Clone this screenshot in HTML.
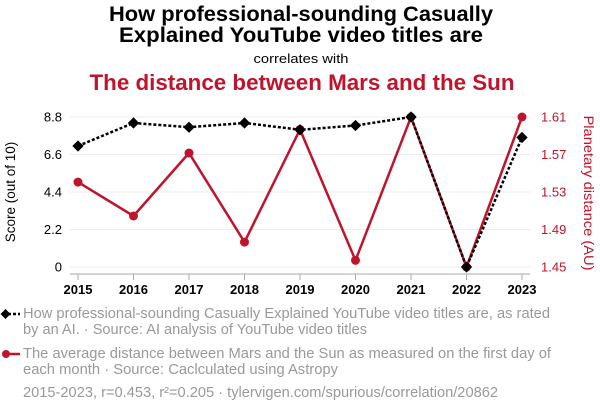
<!DOCTYPE html>
<html><head><meta charset="utf-8"><style>
body{margin:0;background:#fff;width:600px;height:414px;overflow:hidden;font-family:"Liberation Sans",sans-serif;}
</style></head><body>
<svg width="600" height="414" xmlns="http://www.w3.org/2000/svg" font-family="Liberation Sans, sans-serif">
<text x="301" y="21" text-anchor="middle" font-size="21" font-weight="bold" fill="#000" textLength="384" lengthAdjust="spacingAndGlyphs">How professional-sounding Casually</text>
<text x="301" y="42" text-anchor="middle" font-size="21" font-weight="bold" fill="#000" textLength="364" lengthAdjust="spacingAndGlyphs">Explained YouTube video titles are</text>
<text x="301" y="63" text-anchor="middle" font-size="13" fill="#000" textLength="95" lengthAdjust="spacingAndGlyphs">correlates with</text>
<text x="302" y="90" text-anchor="middle" font-size="22" font-weight="bold" fill="#c0142c" textLength="425" lengthAdjust="spacingAndGlyphs">The distance between Mars and the Sun</text>
<g id="grid"></g>
<line x1="70" y1="274" x2="530" y2="274" stroke="#aaa" stroke-width="1"/>
<g id="axes"></g>
<text transform="translate(15,192) rotate(-90)" text-anchor="middle" font-size="13.5" fill="#000">Score (out of 10)</text>
<text transform="translate(584,193) rotate(90)" text-anchor="middle" font-size="14" fill="#c0142c" textLength="155" lengthAdjust="spacingAndGlyphs">Planetary distance (AU)</text>
<g id="series"></g>
<g>
<line x1="3" y1="314" x2="20" y2="314" stroke="#000" stroke-width="2.5" stroke-dasharray="3,2"/>
<rect x="2" y="310.5" width="7" height="7" transform="rotate(45 5.5 314)" fill="#000"/>
<text x="23" y="318" font-size="14.5" fill="#999" textLength="527" lengthAdjust="spacingAndGlyphs">How professional-sounding Casually Explained YouTube video titles are, as rated</text>
<text x="23" y="334" font-size="14.5" fill="#999" textLength="344" lengthAdjust="spacingAndGlyphs">by an AI. · Source: AI analysis of YouTube video titles</text>
</g>
<g>
<line x1="3" y1="354" x2="20" y2="354" stroke="#c0142c" stroke-width="2.5"/>
<circle cx="6" cy="354" r="4" fill="#c0142c"/>
<text x="23" y="358" font-size="14.5" fill="#999" textLength="528" lengthAdjust="spacingAndGlyphs">The average distance between Mars and the Sun as measured on the first day of</text>
<text x="23" y="374" font-size="14.5" fill="#999" textLength="315" lengthAdjust="spacingAndGlyphs">each month · Source: Caclculated using Astropy</text>
</g>
<text x="23" y="397" font-size="14.5" fill="#999" textLength="475" lengthAdjust="spacingAndGlyphs">2015-2023, r=0.453, r²=0.205 · tylervigen.com/spurious/correlation/20862</text>
</svg>
<script>
const years=[2015,2016,2017,2018,2019,2020,2021,2022,2023];
const scores=[7.1,8.45,8.2,8.45,8.05,8.3,8.8,0,7.6];
const distances=[1.5406,1.5044,1.5716,1.4766,1.5967,1.4571,1.61,1.45,1.61];
const leftTicks=[0,2.2,4.4,6.6,8.8];
const rightTicks=[1.45,1.49,1.53,1.57,1.61];
const NS="http://www.w3.org/2000/svg";
const X0=78,X1=522,YT=117,YB=267;
const xs=i=>X0+(X1-X0)*i/(years.length-1);
const yL=v=>YB-(v-0)/(8.8-0)*(YB-YT);
const yR=v=>YB-(v-1.45)/(1.61-1.45)*(YB-YT);
function mk(tag,attrs,parent){const e=document.createElementNS(NS,tag);for(const k in attrs)e.setAttribute(k,attrs[k]);parent.appendChild(e);return e;}
const grid=document.getElementById('grid'),axes=document.getElementById('axes'),ser=document.getElementById('series');
leftTicks.forEach((t,i)=>{
 const g=mk('line',{x1:70,x2:530,y1:yL(t),y2:yL(t),stroke:'#eee','stroke-width':1},grid);
 
 
 const tx=mk('text',{x:62,y:yL(t)+4.5,'text-anchor':'end','font-size':13,fill:'#000'},axes);tx.textContent=t;
 
 
});
rightTicks.forEach(t=>{
 const tx=mk('text',{x:541,y:yR(t)+4.5,'font-size':13,fill:'#c0142c'},axes);tx.textContent=t.toFixed(2);
 
 
});
years.forEach((y,i)=>{
 mk('line',{x1:xs(i),x2:xs(i),y1:274,y2:280,stroke:'#aaa'},axes);
 const tx=mk('text',{x:xs(i),y:294,'text-anchor':'middle','font-size':13,'font-weight':'bold',fill:'#000'},axes);tx.textContent=y;
 
 
});
const rl=mk('polyline',{points:distances.map((v,i)=>xs(i)+','+yR(v)).join(' '),fill:'none',stroke:'#c0142c','stroke-width':2.5},ser);


distances.forEach((v,i)=>{const c=mk('circle',{cx:xs(i),cy:yR(v),r:4.5,fill:'#c0142c'},ser);
 
 });
const bl=mk('polyline',{points:scores.map((v,i)=>xs(i)+','+yL(v)).join(' '),fill:'none',stroke:'#000','stroke-width':2.5,'stroke-dasharray':'3,2'},ser);


scores.forEach((v,i)=>{const r=mk('rect',{x:xs(i)-4,y:yL(v)-4,width:8,height:8,transform:`rotate(45 ${xs(i)} ${yL(v)})`,fill:'#000'},ser);
 
 });
</script>
</body></html>
